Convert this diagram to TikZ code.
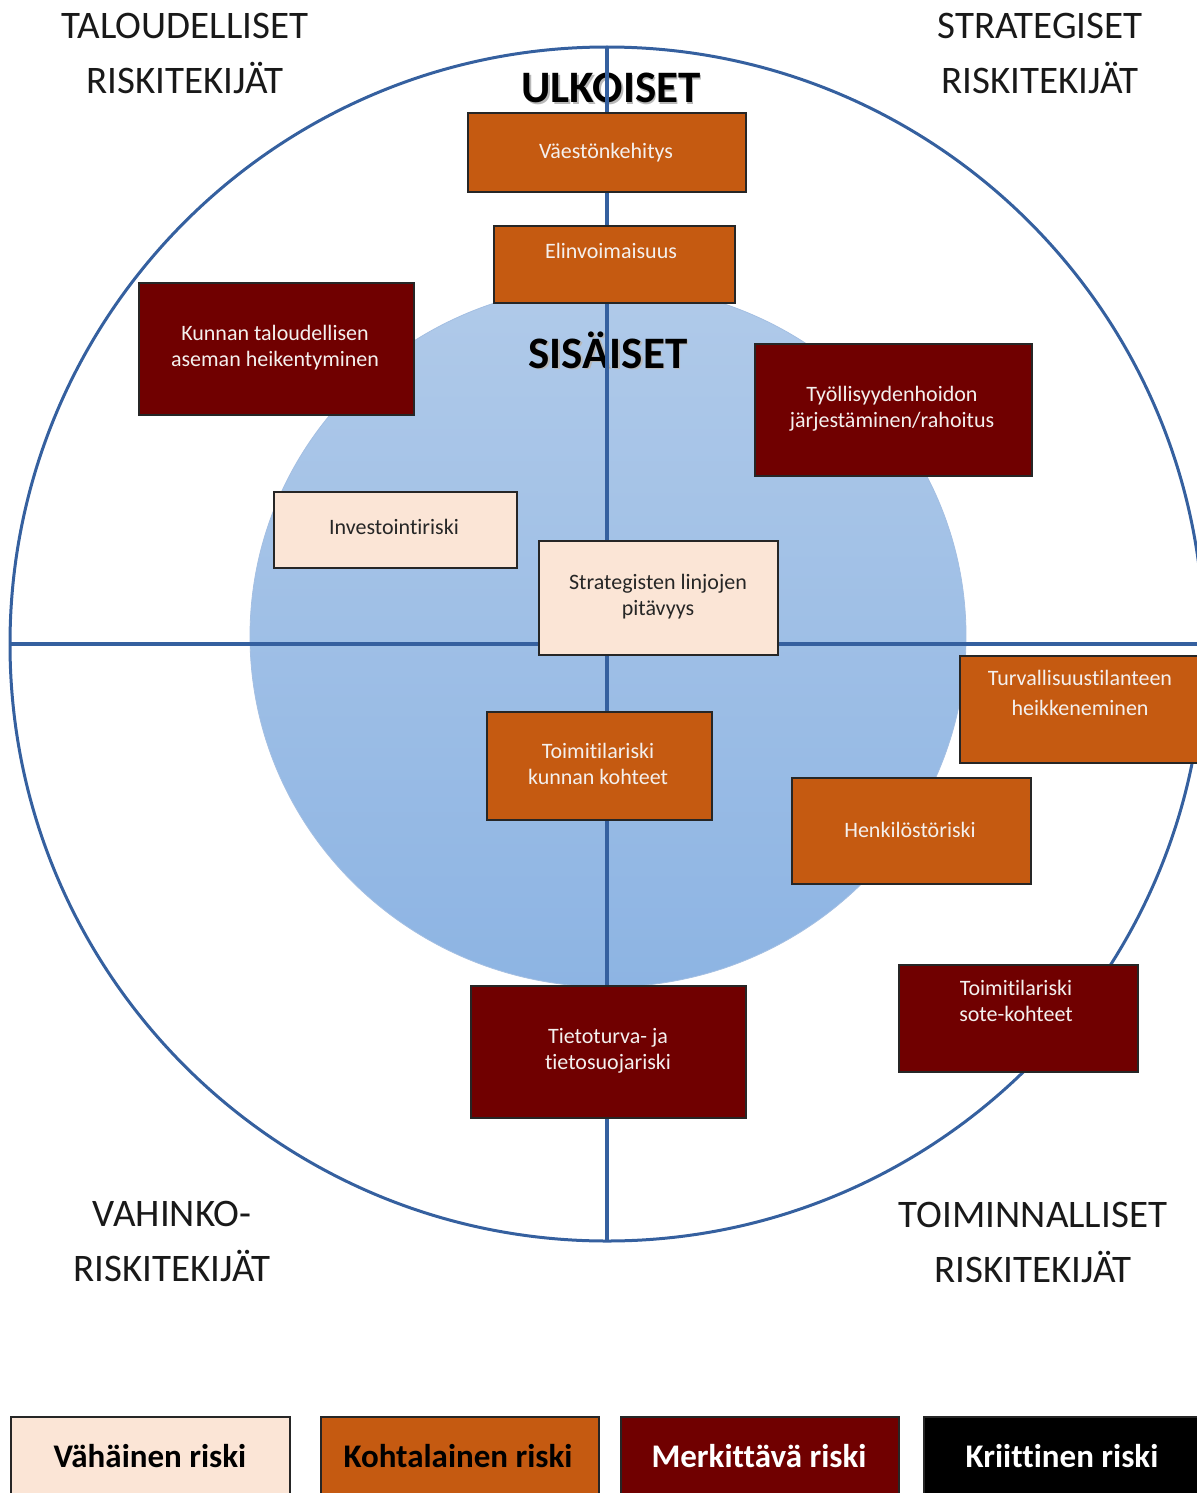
\documentclass[tikz,border=0pt]{standalone}
\usepackage{fontspec}
\setmainfont{Carlito}[RawFeature={-liga}]
\definecolor{orng}{HTML}{C55A11}
\definecolor{dred}{HTML}{700000}
\definecolor{peach}{HTML}{FBE5D6}
\definecolor{lblue}{HTML}{35609F}
\definecolor{ctop}{HTML}{B0CAE9}
\definecolor{cbot}{HTML}{8DB4E3}
\definecolor{txtw}{HTML}{F4F0EE}
\tikzset{
  riskbox/.style={draw=black!85, line width=0.8pt, rectangle, inner sep=0pt},
  lowbox/.style={riskbox, fill=peach},
  midbox/.style={riskbox, fill=orng},
  highbox/.style={riskbox, fill=dred},
  crit/.style={riskbox, fill=black},
  wtxt/.style={text=txtw, font=\fontsize{11}{13}\selectfont, align=center, inner sep=0pt},
  ktxt/.style={text=black!85, font=\fontsize{11}{13}\selectfont, align=center, inner sep=0pt},
  title/.style={font=\fontsize{19.5}{27.5}\selectfont, text=black!90, align=center, inner sep=0pt},
  head/.style={font=\fontsize{22.5}{24}\selectfont\bfseries, inner sep=0pt},
  legtxt/.style={font=\fontsize{16.5}{18}\selectfont\bfseries, inner sep=0pt},
  axis/.style={draw=lblue, line width=1.6pt},
}
\begin{document}
\begin{tikzpicture}[x=0.5pt, y=-0.5pt]
\useasboundingbox (0,0) rectangle (1197,1493);
\clip (0,0) rectangle (1197,1493);
% outer circle
\coordinate (outer) at (607,644);
\draw[draw=lblue, line width=1.5pt] (outer) circle [radius=597];
% inner circle
\coordinate (inner) at (608,636);
\shade[top color=ctop, bottom color=cbot, draw=ctop!90!lblue, line width=0.4pt] (inner) ellipse [x radius=358, y radius=351];
% headings
\node[head, text=black!28] at (612.5,89.5) {ULKOISET};
\node[head] (ulk) at (611,88) {ULKOISET};
\node[head, text=black!28] at (609.5,351.5) {SISÄISET};
\node[head] (sis) at (608,350) {SISÄISET};
% axes
\coordinate (vt) at (607,48);
\coordinate (vb) at (607,1240);
\coordinate (hl) at (10,644);
\coordinate (hr) at (1197,644);
\draw[axis] (vt) -- (vb);
\draw[axis] (hl) -- (hr);
% titles
\node[title] (t1) at (185,53) {TALOUDELLISET\\RISKITEKIJÄT};
\node[title] (t2) at (1040,53) {STRATEGISET\\RISKITEKIJÄT};
\node[title] (t3) at (172,1241) {VAHINKO-\\RISKITEKIJÄT};
\node[title] (t4) at (1033,1242) {TOIMINNALLISET\\RISKITEKIJÄT};
% boxes
\draw[midbox] (468,113) rectangle (746,192); \node[wtxt] (b1) at (606,153) {Väestönkehitys};
\draw[midbox] (494,226) rectangle (735,303); \node[wtxt] (b2) at (611,251) {Elinvoimaisuus};
\draw[highbox] (139,283) rectangle (414,415); \node[wtxt] (b3) at (275,348) {Kunnan taloudellisen\\aseman heikentyminen};
\draw[highbox] (755,344) rectangle (1032,476); \node[wtxt] (b4) at (892,409) {Työllisyydenhoidon\\järjestäminen/rahoitus};
\draw[lowbox] (274,492) rectangle (517,568); \node[ktxt] (b5) at (394,527) {Investointiriski};
\draw[lowbox] (539,541) rectangle (778,655); \node[ktxt] (b6) at (658,597) {Strategisten linjojen\\pitävyys};
\draw[midbox] (487,712) rectangle (712,820); \node[wtxt] (b7) at (598,764) {Toimitilariski\\kunnan kohteet};
\draw[midbox] (960,656) rectangle (1205,763); \node[wtxt, font=\fontsize{11}{15}\selectfont] (b8) at (1080,693) {Turvallisuustilanteen\\heikkeneminen};
\draw[midbox] (792,778) rectangle (1031,884); \node[wtxt] (b9) at (910,830) {Henkilöstöriski};
\draw[highbox] (899,965) rectangle (1138,1072); \node[wtxt] (b10) at (1016,1001) {Toimitilariski\\sote-kohteet};
\draw[highbox] (471,986) rectangle (746,1118); \node[wtxt] (b11) at (608,1051) {Tietoturva- ja\\tietosuojariski};
% legend
\draw[lowbox] (11,1417) rectangle (290,1500); \node[legtxt, text=black] (l1) at (150,1456) {Vähäinen riski};
\draw[midbox] (321,1417) rectangle (599,1500); \node[legtxt, text=black] (l2) at (458,1456) {Kohtalainen riski};
\draw[highbox] (621,1417) rectangle (899,1500); \node[legtxt, text=white] (l3) at (759,1456) {Merkittävä riski};
\draw[crit] (924,1417) rectangle (1205,1500); \node[legtxt, text=white] (l4) at (1062,1456) {Kriittinen riski};
\end{tikzpicture}
\end{document}
